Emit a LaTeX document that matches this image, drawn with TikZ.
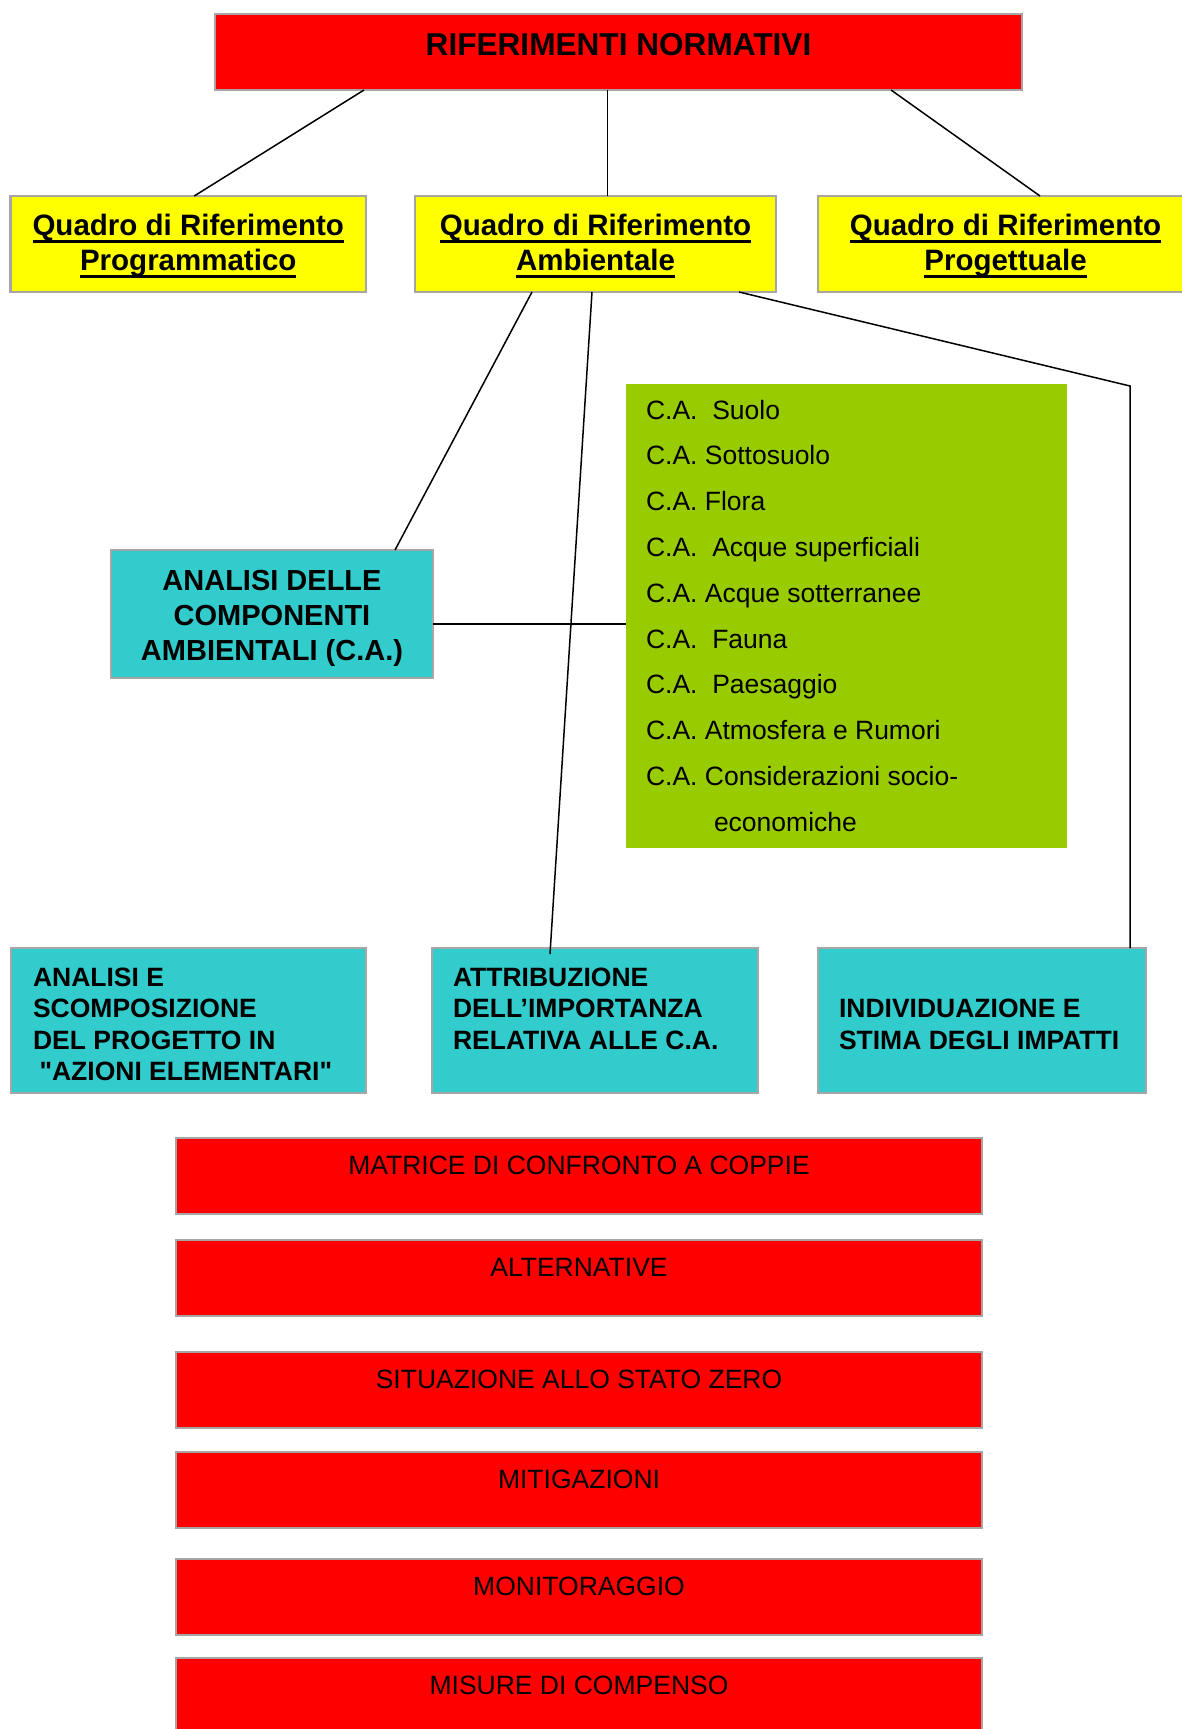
\documentclass[tikz,border=0pt]{standalone}
\usepackage{fontspec}
\setmainfont{Liberation Sans}[Ligatures=TeXOff]
\usetikzlibrary{calc}
\definecolor{bred}{HTML}{FF0000}
\definecolor{byel}{HTML}{FFFF00}
\definecolor{bcyan}{HTML}{33CCCC}
\definecolor{bgreen}{HTML}{99CC00}
\definecolor{bgray}{HTML}{A6A6A6}
\newcommand{\fbold}[1]{\fontsize{#1}{#1}\selectfont\bfseries}
\newcommand{\freg}[1]{\fontsize{#1}{#1}\selectfont}
\tikzset{
  boxbase/.style={anchor=north west, inner sep=0pt, outer sep=0pt, line width=2.5pt, draw=bgray},
  redbox/.style={boxbase, fill=bred},
  yelbox/.style={boxbase, fill=byel},
  cyanbox/.style={boxbase, fill=bcyan},
  greenbox/.style={anchor=north west, inner sep=0pt, outer sep=0pt, fill=bgreen},
  txt/.style={inner sep=0pt, outer sep=0pt, text=black},
  conn/.style={line width=1.5pt, black},
  uline/.style={line width=3.3pt, black},
}
\begin{document}
\begin{tikzpicture}[x=1pt,y=-1pt]
\useasboundingbox (0,0) rectangle (1182,1729);
% top box
\node[redbox, minimum width=807pt, minimum height=76pt] (top) at (215,14) {};
\node[txt, anchor=base, font=\fbold{31.6}] (toptxt) at ($(top.north)+(0,41)$) {RIFERIMENTI NORMATIVI};
% yellow boxes
\node[yelbox, minimum width=355.5pt, minimum height=96pt] (prog) at (10.5,196) {};
\node[yelbox, minimum width=361pt, minimum height=96pt] (amb) at (415,196) {};
\node[yelbox, minimum width=375pt, minimum height=96pt] (proj) at (818,196) {};
\node[txt, anchor=base, font=\fbold{29.5}] (progA) at ($(prog.north)+(0,39)$) {Quadro di Riferimento};
\node[txt, anchor=base, font=\fbold{29.5}] (progB) at ($(prog.north)+(0,74)$) {Programmatico};
\node[txt, anchor=base, font=\fbold{29.5}] (ambA) at ($(amb.north)+(0,39)$) {Quadro di Riferimento};
\node[txt, anchor=base, font=\fbold{29.5}] (ambB) at ($(amb.north)+(0,74)$) {Ambientale};
\node[txt, anchor=base, font=\fbold{29.5}] (projA) at ($(proj.north)+(0,39)$) {Quadro di Riferimento};
\node[txt, anchor=base, font=\fbold{29.5}] (projB) at ($(proj.north)+(0,74)$) {Progettuale};
\foreach \n in {progA,progB,ambA,ambB,projA,projB}
  \draw[uline] ($(\n.base west)+(0,6.35)$) -- ($(\n.base east)+(0,6.35)$);
% green list
\node[greenbox, minimum width=441pt, minimum height=464pt] (green) at (626,384) {};
\foreach \t [count=\i from 0] in {C.A.\ \ Suolo, C.A. Sottosuolo, C.A. Flora, C.A.\ \ Acque superficiali, C.A. Acque sotterranee, C.A.\ \ Fauna, C.A.\ \ Paesaggio, C.A. Atmosfera e Rumori, C.A. Considerazioni socio-}
  \node[txt, anchor=base west, font=\freg{26.5}] (g\i) at (646,419+45.8*\i) {\t};
\node[txt, anchor=base west, font=\freg{26.5}] (g9) at (714,831.2) {economiche};
% analisi delle componenti
\node[cyanbox, minimum width=322pt, minimum height=128pt] (anal) at (111,550) {};
\node[txt, anchor=base, font=\fbold{29}] (analA) at ($(anal.north)+(0,40)$) {ANALISI DELLE};
\node[txt, anchor=base, font=\fbold{29}] (analB) at ($(anal.north)+(0,75)$) {COMPONENTI};
\node[txt, anchor=base, font=\fbold{29}] (analC) at ($(anal.north)+(0,110)$) {AMBIENTALI (C.A.)};
% bottom cyan boxes
\node[cyanbox, minimum width=355pt, minimum height=145pt] (az) at (11,948) {};
\node[cyanbox, minimum width=326pt, minimum height=145pt] (attr) at (432,948) {};
\node[cyanbox, minimum width=328pt, minimum height=145pt] (ind) at (818,948) {};
\node[txt, anchor=base west, font=\fbold{26.5}] (azA) at (33,986) {ANALISI E};
\node[txt, anchor=base west, font=\fbold{26.5}] (azB) at (33,1017.6) {SCOMPOSIZIONE};
\node[txt, anchor=base west, font=\fbold{26.5}] (azC) at (33,1049.2) {DEL PROGETTO IN};
\node[txt, anchor=base west, font=\fbold{26.5}] (azD) at (39.5,1080.8) {"AZIONI ELEMENTARI"};
\node[txt, anchor=base west, font=\fbold{26.5}] (attrA) at (453,986) {ATTRIBUZIONE};
\node[txt, anchor=base west, font=\fbold{26.5}] (attrB) at (453,1017.6) {DELL’IMPORTANZA};
\node[txt, anchor=base west, font=\fbold{26.5}] (attrC) at (453,1049.2) {RELATIVA ALLE C.A.};
\node[txt, anchor=base west, font=\fbold{26.5}] (indA) at (839,1017.6) {INDIVIDUAZIONE E};
\node[txt, anchor=base west, font=\fbold{26.5}] (indB) at (839,1049.2) {STIMA DEGLI IMPATTI};
% bottom red boxes
\node[redbox, minimum width=806pt, minimum height=76pt] (r1) at (176,1138) {};
\node[redbox, minimum width=806pt, minimum height=76pt] (r2) at (176,1240) {};
\node[redbox, minimum width=806pt, minimum height=76pt] (r3) at (176,1352) {};
\node[redbox, minimum width=806pt, minimum height=76pt] (r4) at (176,1452) {};
\node[redbox, minimum width=806pt, minimum height=76pt] (r5) at (176,1559) {};
\node[redbox, minimum width=806pt, minimum height=90pt] (r6) at (176,1658) {};
\node[txt, anchor=base, font=\freg{26.5}] (r1t) at ($(r1.north)+(0,36.5)$) {MATRICE DI CONFRONTO A COPPIE};
\node[txt, anchor=base, font=\freg{26.5}] (r2t) at ($(r2.north)+(0,36.5)$) {ALTERNATIVE};
\node[txt, anchor=base, font=\freg{26.5}] (r3t) at ($(r3.north)+(0,36.5)$) {SITUAZIONE ALLO STATO ZERO};
\node[txt, anchor=base, font=\freg{26.5}] (r4t) at ($(r4.north)+(0,36.5)$) {MITIGAZIONI};
\node[txt, anchor=base, font=\freg{26.5}] (r5t) at ($(r5.north)+(0,36.5)$) {MONITORAGGIO};
\node[txt, anchor=base, font=\freg{26.5}] (r6t) at ($(r6.north)+(0,36.5)$) {MISURE DI COMPENSO};
% connectors
\coordinate (corner) at ($(ind.north west)+(312,-562)$);
\draw[conn] ($(top.south west)+(149,0)$) -- ($(prog.north)+(6,0)$);
\draw[conn] ($(amb.north)+(12,0)$) coordinate (ambtop) -- (ambtop |- top.south);
\draw[conn] ($(top.south west)+(676,0)$) -- ($(proj.north west)+(222,0)$);
\draw[conn] ($(amb.south west)+(117,0)$) -- ($(anal.north west)+(284,0)$);
\draw[conn] ($(amb.south west)+(177,0)$) -- ($(attr.north west)+(118,6)$);
\draw[conn] ($(amb.south west)+(324,0)$) -- (corner) -- ($(ind.north west)+(312,0)$);
\draw[line width=2.5pt] ($(anal.east)+(0,10)$) coordinate (ae) -- (ae -| green.west);
\end{tikzpicture}
\end{document}
